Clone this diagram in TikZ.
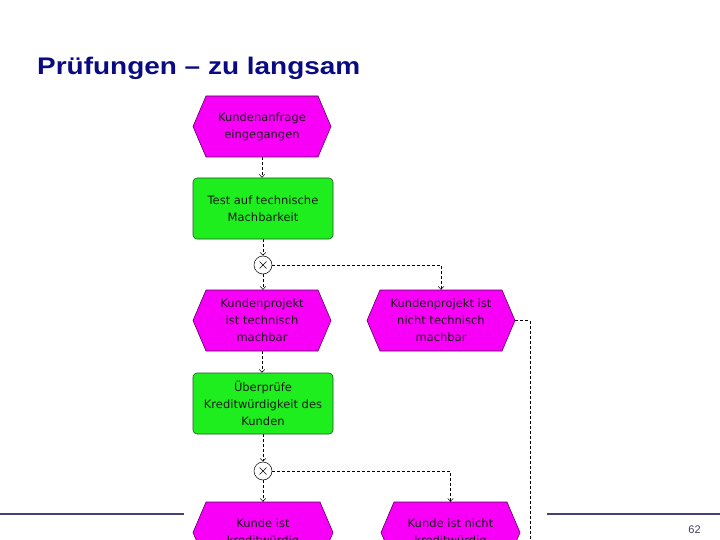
\documentclass[tikz,border=0pt]{standalone}
\usepackage{fontspec}
\setmainfont{DejaVu Sans}
\newfontfamily\titlefont{Liberation Sans}
\usetikzlibrary{arrows.meta,calc}
\definecolor{evfill}{HTML}{F800F8}
\definecolor{evline}{HTML}{5A005A}
\definecolor{fnfill}{HTML}{1EEE1E}
\definecolor{fnline}{HTML}{1E5A1E}
\definecolor{titleblue}{HTML}{0A0A82}
\definecolor{rulecol}{HTML}{424272}
\definecolor{numcol}{HTML}{404060}
\definecolor{txtcol}{HTML}{1A1A1A}
\newcommand\hexev[5]{%
  \filldraw[evshape] (#2-#4,#3) -- (#2-#4+13,#3-30.5) -- (#2+#4-13,#3-30.5)
    -- (#2+#4,#3) -- (#2+#4-13,#3+30.5) -- (#2-#4+13,#3+30.5) -- cycle;
  \node[evtext, minimum width=2*#4, minimum height=61] (#1) at (#2,#3) {#5};}
\tikzset{
  evshape/.style={fill=evfill, draw=evline, line width=0.6pt},
  evtext/.style={draw=none, inner sep=0pt, align=center, text=txtcol,
    font=\fontsize{11.5}{16.8}\selectfont},
  fnbox/.style={rectangle, rounded corners=4pt, fill=fnfill, draw=fnline,
    line width=0.6pt, minimum width=140, minimum height=61, inner sep=0pt,
    align=center, text=txtcol, font=\fontsize{11.5}{16.8}\selectfont},
  xorgate/.style={circle, draw=black, line width=0.5pt, fill=white,
    minimum size=18, inner sep=0pt,
    path picture={\draw[line width=0.5pt] ($(path picture bounding box.center)+(-3.5,-3.5)$) -- ($(path picture bounding box.center)+(3.5,3.5)$)
      ($(path picture bounding box.center)+(-3.5,3.5)$) -- ($(path picture bounding box.center)+(3.5,-3.5)$);}},
  flow/.style={draw=black, line width=0.6pt, dash pattern=on 3pt off 2pt,
    -{Straight Barb[length=3pt,width=5.5pt,line width=0.5pt]}},
  flowplain/.style={draw=black, line width=0.6pt, dash pattern=on 3pt off 2pt},
  rulestyle/.style={draw=rulecol, line width=2pt}
}
\begin{document}
\begin{tikzpicture}[x=1pt,y=-1pt]
\useasboundingbox (0,0) rectangle (720,540);
\clip (0,0) rectangle (720,540);
\fill[white] (0,0) rectangle (720,540);

\node[anchor=base west, inner sep=0pt, text=titleblue,
  font=\titlefont\bfseries\fontsize{24}{28}\selectfont] (title) at (37,75)
  {\scalebox{1.165}[1]{Prüfungen – zu langsam}};

\hexev{e1}{262}{126.5}{69}{Kundenanfrage\\eingegangen}
\node[fnbox] (f1) at (263,208.5) {Test auf technische\\Machbarkeit};
\node[xorgate] (x1) at (263,265) {};
\hexev{e2}{262}{320.5}{69}{Kundenprojekt\\ist technisch\\machbar}
\hexev{e3}{441}{320.5}{74}{Kundenprojekt ist\\nicht technisch\\machbar}
\node[fnbox] (f2) at (263,403.5) {Überprüfe\\Kreditwürdigkeit des\\Kunden};
\node[xorgate] (x2) at (263,471) {};
\hexev{e4}{263}{532.5}{70}{Kunde ist\\kreditwürdig}
\hexev{e5}{450.5}{532.5}{69.5}{Kunde ist nicht\\kreditwürdig}
\coordinate (c1) at (530,548);

\draw[flow] (e1.south) -- (e1.south |- f1.north);
\draw[flow] (f1.south) -- (x1.north);
\draw[flow] (x1.south) -- (x1.south |- e2.north);
\draw[flow] (x1.east) -| (e3.north);
\draw[flowplain] (e3.east) -| (c1);
\draw[flow] (e2.south) -- (e2.south |- f2.north);
\draw[flow] (f2.south) -- (x2.north);
\draw[flow] (x2.south) -- (e4.north);
\draw[flow] (x2.east) -| (e5.north);

\draw[rulestyle] (0,514) -- (184,514);
\draw[rulestyle] (547,514) -- (720,514);
\node[text=numcol, font=\titlefont\fontsize{11}{13}\selectfont, inner sep=0pt]
  (pnum) at (694.5,529.5) {62};
\end{tikzpicture}
\end{document}
